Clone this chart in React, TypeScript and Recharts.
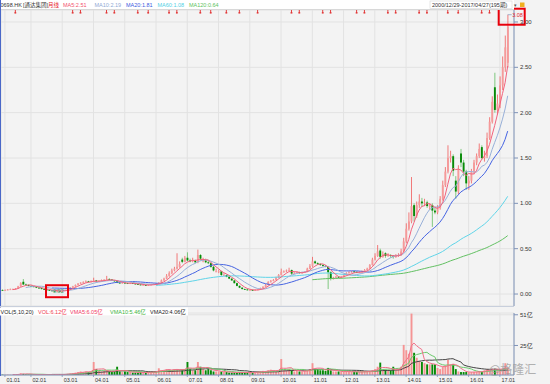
import { ComposedChart, Bar, Line, XAxis, YAxis, CartesianGrid, ReferenceDot } from "recharts"

// 0698.HK monthly candles, 2000/12 - 2017/04 (195 periods)
const fullYear = ["01", "02", "03", "04", "05", "06", "07", "08", "09", "10", "11", "12"]
const yearMonths: [string, string[]][] = [
  ["00", ["12"]],
  ["01", ["01", "02", "03", "04", "05", "08", "09", "10", "11", "12"]],
  ["02", fullYear], ["03", fullYear], ["04", fullYear], ["05", fullYear], ["06", fullYear],
  ["07", fullYear], ["08", fullYear], ["09", fullYear], ["10", fullYear], ["11", fullYear],
  ["12", fullYear], ["13", fullYear], ["14", fullYear], ["15", fullYear], ["16", fullYear],
  ["17", ["01", "02", "03", "04"]],
]
const months = yearMonths.flatMap(([y, ms]) => ms.map((m) => `${y}.${m}`))

const yearTicks = ["01.01", "02.01", "03.01", "04.01", "05.01", "06.01", "07.01", "08.01", "09.01",
  "10.01", "11.01", "12.01", "13.01", "14.01", "15.01", "16.01", "17.01"]
const priceTicks = [0, 0.5, 1, 1.5, 2, 2.5, 3]
const volTicks = [25, 51]

// [open, high, low, close]
const c2000 = [[0.045, 0.05, 0.035, 0.04]]
const c2001 = [
  [0.04, 0.05, 0.035, 0.045], [0.045, 0.055, 0.04, 0.05], [0.05, 0.06, 0.045, 0.052], [0.052, 0.06, 0.048, 0.055],
  [0.055, 0.065, 0.05, 0.06], [0.06, 0.09, 0.058, 0.085], [0.085, 0.13, 0.08, 0.12], [0.135, 0.165, 0.1, 0.105],
  [0.105, 0.115, 0.095, 0.1], [0.1, 0.105, 0.085, 0.09],
]
const c2002 = [
  [0.09, 0.095, 0.08, 0.085], [0.085, 0.09, 0.075, 0.08], [0.08, 0.085, 0.065, 0.07], [0.07, 0.075, 0.06, 0.065],
  [0.065, 0.07, 0.05, 0.055], [0.055, 0.06, 0.045, 0.05], [0.05, 0.055, 0.04, 0.045], [0.045, 0.05, 0.035, 0.04],
  [0.04, 0.045, 0.03, 0.035], [0.035, 0.04, 0.025, 0.03], [0.03, 0.04, 0.02, 0.035], [0.035, 0.04, 0.025, 0.03],
]
const c2003 = [
  [0.03, 0.04, 0.028, 0.035], [0.035, 0.05, 0.033, 0.045], [0.045, 0.065, 0.04, 0.06], [0.06, 0.075, 0.055, 0.07],
  [0.07, 0.09, 0.065, 0.085], [0.085, 0.105, 0.08, 0.1], [0.1, 0.12, 0.095, 0.115], [0.115, 0.13, 0.11, 0.125],
  [0.125, 0.14, 0.115, 0.13], [0.13, 0.15, 0.125, 0.14], [0.14, 0.145, 0.13, 0.135], [0.135, 0.15, 0.13, 0.14],
]
const c2004 = [
  [0.14, 0.18, 0.135, 0.15], [0.15, 0.155, 0.135, 0.14], [0.14, 0.15, 0.135, 0.145], [0.145, 0.16, 0.14, 0.15],
  [0.15, 0.165, 0.145, 0.155], [0.155, 0.2, 0.15, 0.165], [0.165, 0.175, 0.155, 0.16], [0.16, 0.165, 0.145, 0.15],
  [0.15, 0.155, 0.135, 0.14], [0.14, 0.145, 0.12, 0.125], [0.125, 0.13, 0.115, 0.12], [0.12, 0.13, 0.115, 0.125],
]
const c2005 = [
  [0.125, 0.13, 0.115, 0.12], [0.12, 0.125, 0.11, 0.115], [0.115, 0.125, 0.11, 0.12], [0.12, 0.125, 0.11, 0.115],
  [0.115, 0.12, 0.105, 0.11], [0.11, 0.115, 0.1, 0.105], [0.105, 0.11, 0.095, 0.1], [0.1, 0.105, 0.095, 0.1],
  [0.1, 0.105, 0.09, 0.095], [0.095, 0.105, 0.09, 0.1], [0.1, 0.11, 0.095, 0.105], [0.105, 0.115, 0.1, 0.11],
]
const c2006 = [
  [0.11, 0.12, 0.105, 0.115], [0.115, 0.13, 0.11, 0.125], [0.125, 0.16, 0.12, 0.15], [0.15, 0.18, 0.145, 0.17],
  [0.17, 0.22, 0.165, 0.2], [0.2, 0.25, 0.19, 0.23], [0.23, 0.28, 0.22, 0.26], [0.26, 0.3, 0.25, 0.28],
  [0.28, 0.45, 0.27, 0.3], [0.3, 0.36, 0.29, 0.33], [0.38, 0.4, 0.34, 0.355], [0.355, 0.42, 0.35, 0.4],
]
const c2007 = [
  [0.4, 0.46, 0.36, 0.37], [0.37, 0.39, 0.35, 0.36], [0.36, 0.4, 0.35, 0.37], [0.37, 0.38, 0.34, 0.35],
  [0.35, 0.49, 0.34, 0.43], [0.43, 0.44, 0.37, 0.39], [0.36, 0.4, 0.35, 0.37], [0.37, 0.39, 0.34, 0.35],
  [0.35, 0.37, 0.33, 0.34], [0.34, 0.35, 0.29, 0.3], [0.3, 0.31, 0.25, 0.26], [0.25, 0.28, 0.24, 0.25],
]
const c2008 = [
  [0.25, 0.27, 0.23, 0.25], [0.25, 0.255, 0.2, 0.21], [0.205, 0.23, 0.2, 0.21], [0.21, 0.215, 0.185, 0.19],
  [0.19, 0.2, 0.165, 0.17], [0.17, 0.175, 0.145, 0.15], [0.15, 0.155, 0.115, 0.12], [0.12, 0.125, 0.085, 0.09],
  [0.09, 0.095, 0.065, 0.07], [0.07, 0.075, 0.05, 0.055], [0.055, 0.06, 0.045, 0.05], [0.05, 0.055, 0.04, 0.045],
]
const c2009 = [
  [0.043, 0.05, 0.04, 0.045], [0.045, 0.05, 0.035, 0.04], [0.04, 0.05, 0.038, 0.045], [0.045, 0.055, 0.043, 0.05],
  [0.05, 0.07, 0.048, 0.065], [0.065, 0.085, 0.06, 0.08], [0.08, 0.11, 0.075, 0.1], [0.1, 0.14, 0.095, 0.135],
  [0.135, 0.155, 0.125, 0.145], [0.145, 0.165, 0.14, 0.155], [0.155, 0.19, 0.15, 0.18], [0.18, 0.22, 0.175, 0.21],
]
const c2010 = [
  [0.21, 0.28, 0.205, 0.245], [0.245, 0.26, 0.235, 0.25], [0.25, 0.27, 0.24, 0.26], [0.26, 0.29, 0.25, 0.265],
  [0.265, 0.27, 0.21, 0.225], [0.225, 0.24, 0.22, 0.235], [0.235, 0.25, 0.23, 0.24], [0.24, 0.245, 0.225, 0.23],
  [0.23, 0.245, 0.225, 0.24], [0.24, 0.25, 0.235, 0.245], [0.245, 0.29, 0.24, 0.28], [0.28, 0.33, 0.275, 0.31],
]
const c2011 = [
  [0.31, 0.41, 0.3, 0.36], [0.36, 0.37, 0.33, 0.34], [0.34, 0.35, 0.32, 0.33], [0.33, 0.34, 0.31, 0.32],
  [0.32, 0.33, 0.3, 0.31], [0.31, 0.32, 0.295, 0.3], [0.3, 0.31, 0.055, 0.24], [0.24, 0.25, 0.15, 0.17],
  [0.17, 0.19, 0.16, 0.18], [0.18, 0.2, 0.17, 0.19], [0.19, 0.195, 0.175, 0.185], [0.185, 0.2, 0.18, 0.19],
]
const c2012 = [
  [0.19, 0.22, 0.185, 0.21], [0.21, 0.24, 0.205, 0.23], [0.23, 0.25, 0.225, 0.24], [0.24, 0.255, 0.235, 0.245],
  [0.25, 0.255, 0.235, 0.24], [0.245, 0.25, 0.23, 0.235], [0.235, 0.25, 0.23, 0.24], [0.24, 0.26, 0.235, 0.25],
  [0.25, 0.275, 0.245, 0.265], [0.265, 0.29, 0.26, 0.28], [0.28, 0.33, 0.275, 0.32], [0.32, 0.4, 0.315, 0.38],
]
const c2013 = [
  [0.38, 0.45, 0.37, 0.42], [0.42, 0.54, 0.41, 0.47], [0.48, 0.5, 0.39, 0.41], [0.41, 0.47, 0.4, 0.44],
  [0.45, 0.46, 0.4, 0.42], [0.42, 0.45, 0.41, 0.43], [0.43, 0.44, 0.4, 0.42], [0.42, 0.43, 0.39, 0.41],
  [0.41, 0.44, 0.4, 0.42], [0.42, 0.45, 0.41, 0.43], [0.43, 0.5, 0.42, 0.47], [0.47, 0.62, 0.46, 0.58],
]
const c2014 = [
  [0.58, 0.78, 0.56, 0.72], [0.72, 0.9, 0.7, 0.8], [0.8, 1.29, 0.78, 0.97], [0.98, 1.0, 0.8, 0.86],
  [0.86, 1.02, 0.84, 0.98], [0.98, 1.1, 0.95, 1.02], [1.02, 1.06, 0.96, 1.0], [1.0, 1.05, 0.97, 1.01],
  [1.01, 1.03, 0.95, 0.97], [0.96, 1.0, 0.93, 0.98], [0.98, 1.0, 0.74, 0.92], [0.92, 0.95, 0.88, 0.9],
]
const c2015 = [
  [0.9, 0.98, 0.88, 0.95], [0.95, 1.08, 0.93, 1.05], [1.05, 1.25, 1.03, 1.2], [1.2, 1.4, 1.18, 1.35],
  [1.35, 1.64, 1.33, 1.5], [1.5, 1.58, 1.45, 1.52], [1.52, 1.54, 1.3, 1.36], [1.25, 1.3, 1.05, 1.13],
  [1.13, 1.42, 1.1, 1.38], [1.55, 1.6, 1.4, 1.45], [1.45, 1.48, 1.3, 1.35], [1.35, 1.37, 1.15, 1.22],
]
const c2016 = [
  [1.22, 1.3, 1.15, 1.25], [1.25, 1.38, 1.22, 1.35], [1.35, 1.48, 1.32, 1.45], [1.45, 1.55, 1.42, 1.52],
  [1.52, 1.66, 1.5, 1.6], [1.62, 1.64, 1.48, 1.5], [1.5, 1.58, 1.46, 1.52], [1.52, 1.78, 1.5, 1.72],
  [1.72, 1.95, 1.7, 1.9], [1.9, 2.18, 1.88, 2.12], [2.28, 2.44, 2.0, 2.03], [2.03, 2.2, 1.98, 2.1],
]
const c2017 = [[2.1, 2.4, 2.05, 2.3], [2.3, 2.62, 2.25, 2.5], [2.5, 2.85, 2.45, 2.72], [2.55, 3.08, 2.5, 2.95]]

// volume, 亿
const v2000 = [0.3]
const v2001 = [0.3, 0.4, 0.3, 0.3, 0.4, 0.8, 1.5, 1.0, 0.6, 0.5]
const v2002 = [0.5, 0.4, 0.4, 0.3, 0.3, 0.3, 0.3, 0.4, 0.3, 0.3, 0.5, 0.4]
const v2003 = [0.4, 0.6, 1.0, 1.2, 1.5, 2.0, 2.5, 3.0, 2.5, 3.0, 2.5, 3.0]
const v2004 = [11, 5, 3.5, 3, 3.5, 4, 3, 2.5, 3, 7, 3, 2.5]
const v2005 = [3, 2.5, 2.5, 2, 2, 2, 2.5, 2, 2, 2.5, 2.5, 3]
const v2006 = [3, 5.7, 4, 4, 5, 4.5, 4, 5, 5, 4.5, 4, 5]
const v2007 = [11, 5, 4, 4, 11, 7, 5, 4, 5, 4, 3, 3]
const v2008 = [3, 3, 2.5, 2.5, 2, 2, 2, 2, 2.5, 2, 2, 2]
const v2009 = [2, 2, 2.5, 3, 3, 3.5, 3, 4, 4.5, 4, 3, 4]
const v2010 = [13.5, 4, 4, 5, 4, 3, 3.5, 3, 3, 3.5, 4, 5]
const v2011 = [10, 5, 5, 4, 4, 3.5, 6, 4, 3, 3, 3, 2.5]
const v2012 = [3, 3, 3, 2.5, 2.5, 2.5, 2.5, 3, 3, 3, 3.5, 4]
const v2013 = [5, 7, 10.5, 5, 4.5, 4, 4, 7, 4, 5, 7, 25.5]
const v2014 = [21, 18, 52, 18.8, 14.6, 12, 11, 10, 9, 9, 9, 9]
const v2015 = [6, 5, 7, 8, 13, 9, 9, 5, 3, 2.5, 2.5, 2.5]
const v2016 = [2.3, 2.5, 2.6, 2.8, 3.2, 2.7, 4, 5, 4.5, 5.5, 5.4, 4.5]
const v2017 = [4.6, 5, 10, 6.12]

// months with dividend flags (index into months)
const dividendIdx = [5, 27, 30, 40, 43, 52, 56, 64, 67, 76, 80, 86, 91, 98, 111, 114, 123, 126,
  136, 139, 148, 151, 160, 163, 171, 175, 184, 187]

const maLegend = [
  { label: "MA5:2.51", color: "#f2506e" },
  { label: "MA10:2.19", color: "#8fa9d4" },
  { label: "MA20:1.81", color: "#3c5ae0" },
  { label: "MA60:1.08", color: "#4fd0e4" },
  { label: "MA120:0.64", color: "#5cc25c" },
]
const volLegend = [
  { label: "VOL(5,10,20)", color: "#222" },
  { label: "VOL:6.12亿", color: "#f03a4e" },
  { label: "VMA5:6.05亿", color: "#f03a64" },
  { label: "VMA10:5.46亿", color: "#3cb43c" },
  { label: "VMA20:4.06亿", color: "#222" },
]

const candles = [...c2000, ...c2001, ...c2002, ...c2003, ...c2004, ...c2005, ...c2006, ...c2007, ...c2008,
  ...c2009, ...c2010, ...c2011, ...c2012, ...c2013, ...c2014, ...c2015, ...c2016, ...c2017]
const volumes = [...v2000, ...v2001, ...v2002, ...v2003, ...v2004, ...v2005, ...v2006, ...v2007, ...v2008,
  ...v2009, ...v2010, ...v2011, ...v2012, ...v2013, ...v2014, ...v2015, ...v2016, ...v2017]

const closes = candles.map((c) => c[3])
const movingAvg = (arr: number[], n: number) =>
  arr.map((_, i) => (i < n - 1 ? null : arr.slice(i - n + 1, i + 1).reduce((a, b) => a + b, 0) / n))

const ma5 = movingAvg(closes, 5)
const ma10 = movingAvg(closes, 10)
const ma20 = movingAvg(closes, 20)
const ma60 = movingAvg(closes, 60)
const ma120 = movingAvg(closes, 120)
const vma5 = movingAvg(volumes, 5)
const vma10 = movingAvg(volumes, 10)
const vma20 = movingAvg(volumes, 20)

const rows = months.map((m, i) => {
  const [open, high, low, close] = candles[i]
  return {
    m, open, high, low, close, range: [low, high],
    ma5: ma5[i], ma10: ma10[i], ma20: ma20[i], ma60: ma60[i], ma120: ma120[i],
    vol: volumes[i], vma5: vma5[i], vma10: vma10[i], vma20: vma20[i],
  }
})

const FONT = '"Liberation Sans", Arial, "Noto Sans CJK SC", sans-serif'
const UP_WICK = "#f05a5a"
const UP_FILL = "#f59a9a"
const DOWN = "#078a07"
const DOWN_WICK = "#62bd62"
const AXIS = "#7f93b8"

function Candle(props: any) {
  const { x, y, width, height, payload } = props
  if (!payload) return null
  const { open, high, low, close } = payload
  const k = high > low ? height / (high - low) : 0
  const py = (v: number) => y + (high - v) * k
  const cx = x + width / 2
  const up = close >= open
  const top = py(Math.max(open, close))
  const bh = Math.max(0.8, py(Math.min(open, close)) - top)
  return (
    <g>
      <line x1={cx} x2={cx} y1={y} y2={y + height} stroke={up ? UP_WICK : DOWN_WICK} strokeWidth={0.8} />
      <rect x={cx - 0.95} y={top} width={1.9} height={bh} fill={up ? UP_FILL : DOWN} />
    </g>
  )
}

function VolBar(props: any) {
  const { x, y, width, height, payload } = props
  if (!payload || !(height > 0)) return null
  const up = payload.close >= payload.open
  return <rect x={x + width / 2 - 0.95} y={y} width={1.9} height={height} fill={up ? "#f59494" : DOWN} />
}

function DivMark(props: any) {
  const { cx, cy } = props
  return (
    <g>
      <line x1={cx} x2={cx} y1={cy - 2.5} y2={cy + 1} stroke="#e02828" strokeWidth={0.9} />
      <rect x={cx - 0.9} y={cy + 0.6} width={1.8} height={1.4} fill="#e02828" />
    </g>
  )
}

function HighTag(props: any) {
  const { cx, cy } = props
  return (
    <g>
      <line x1={cx} x2={cx + 4} y1={cy} y2={cy} stroke="#8aa0c4" strokeWidth={0.8} />
      <text x={cx + 4.5} y={cy + 2.2} fontSize={5.5} fill="#e8202a" fontFamily={FONT}>3.08</text>
      <rect x={cx - 9} y={cy - 6} width={26} height={16} fill="none" stroke="#e8000b" strokeWidth={2} />
    </g>
  )
}

function LowTag(props: any) {
  const { cx, cy } = props
  return (
    <g>
      <line x1={cx - 6} x2={cx - 2} y1={cy - 1.5} y2={cy - 1.5} stroke="#8aa0c4" strokeWidth={0.8} />
      <text x={cx - 4} y={cy + 0.5} fontSize={5.5} fill="#4a9a6a" fontFamily={FONT}>0.02</text>
      <rect x={cx - 11} y={cy - 7} width={22} height={12} fill="none" stroke="#e8000b" strokeWidth={2} />
    </g>
  )
}

function XTick(props: any) {
  const { x, y, payload } = props
  return (
    <g>
      <line x1={x} x2={x} y1={y} y2={y + 2} stroke={AXIS} strokeWidth={0.8} />
      <text x={x + 1.5} y={y + 7} fontSize={5.5} fill="#333" fontFamily={FONT}>{payload.value}</text>
    </g>
  )
}

export default function App() {
  const yTick = { fontSize: 6, fill: "#333", fontFamily: FONT }
  return (
    <div style={{ position: "absolute", left: 0, top: 0, width: 550, height: 384, background: "#f3f3f3", overflow: "hidden" }}>
      <div style={{ position: "absolute", left: 0, top: 0 }}>
        <ComposedChart width={550} height={306} data={rows} margin={{ top: 10, right: 0, bottom: 0, left: 1 }} barCategoryGap={0}>
          <CartesianGrid stroke="#e2e2e2" />
          <XAxis dataKey="m" hide ticks={yearTicks} interval={0} padding={{ left: 0, right: 5 }} />
          <YAxis
            orientation="right"
            width={36}
            domain={[-0.132, 3.132]}
            allowDataOverflow
            ticks={priceTicks}
            tickFormatter={(v: number) => v.toFixed(2)}
            tick={yTick}
            tickSize={4}
            stroke={AXIS}
          />
          <Bar dataKey="range" shape={<Candle />} isAnimationActive={false} />
          <Line dataKey="ma120" stroke="#62c062" strokeWidth={1} dot={false} isAnimationActive={false} />
          <Line dataKey="ma60" stroke="#5fd4e8" strokeWidth={1} dot={false} isAnimationActive={false} />
          <Line dataKey="ma20" stroke="#4563e2" strokeWidth={1} dot={false} isAnimationActive={false} />
          <Line dataKey="ma10" stroke="#98b0d8" strokeWidth={1} dot={false} isAnimationActive={false} />
          <Line dataKey="ma5" stroke="#f2627c" strokeWidth={1} dot={false} isAnimationActive={false} />
          {dividendIdx.map((i) => (
            <ReferenceDot key={i} x={months[i]} y={3.115} r={1} shape={<DivMark />} />
          ))}
          <ReferenceDot x={months[194]} y={3.08} r={1} shape={<HighTag />} />
          <ReferenceDot x={months[21]} y={0.02} r={1} shape={<LowTag />} />
        </ComposedChart>
      </div>
      <div style={{ position: "absolute", left: 0, top: 306 }}>
        <ComposedChart width={550} height={78} data={rows} margin={{ top: 7, right: 0, bottom: 0, left: 1 }} barCategoryGap={0}>
          <CartesianGrid stroke="#e2e2e2" />
          <XAxis
            dataKey="m"
            ticks={yearTicks}
            interval={0}
            padding={{ left: 0, right: 5 }}
            height={9}
            tick={<XTick />}
            tickLine={false}
            tickSize={0}
            tickMargin={0}
            stroke={AXIS}
          />
          <YAxis
            orientation="right"
            width={36}
            domain={[0, 52.5]}
            allowDataOverflow
            ticks={volTicks}
            tickFormatter={(v: number) => `${v}亿`}
            tick={yTick}
            tickSize={4}
            stroke={AXIS}
          />
          <Bar dataKey="vol" shape={<VolBar />} isAnimationActive={false} />
          <Line dataKey="vma20" stroke="#444" strokeWidth={1} dot={false} isAnimationActive={false} />
          <Line dataKey="vma10" stroke="#6cc86c" strokeWidth={1} dot={false} isAnimationActive={false} />
          <Line dataKey="vma5" stroke="#f07088" strokeWidth={1} dot={false} isAnimationActive={false} />
        </ComposedChart>
      </div>
      <svg width={550} height={384} style={{ position: "absolute", left: 0, top: 0, pointerEvents: "none" }} fontFamily={FONT}>
        <rect x={0} y={0} width={514} height={9} fill="#ffffff" />
        <line x1={0} x2={514} y1={9.5} y2={9.5} stroke="#d8d8d8" strokeWidth={1} />
        <text y={6.5} fontSize={5.5}>
          <tspan x={0.5} fill="#333">0698.HK</tspan>
          <tspan x={23} fill="#333">[通达集团]</tspan>
          <tspan x={48} fill="#e8202a">月线</tspan>
          {maLegend.map((d, i) => (
            <tspan key={d.label} x={63 + i * 31.5} fill={d.color}>{d.label}</tspan>
          ))}
        </text>
        <rect x={430} y={1} width={82} height={7.5} fill="#ffffff" stroke="#d0d0d0" strokeWidth={0.5} />
        <text x={432} y={6.6} fontSize={5.5} fill="#333">2000/12/29-2017/04/27(195期)</text>
        <text x={514} y={6.6} fontSize={5} fill="#555">▾</text>
        <rect x={520} y={2.5} width={4.5} height={4.5} fill="#f0b020" />
        <line x1={0.5} x2={0.5} y1={0} y2={376} stroke="#4a68c8" strokeWidth={1} />
        <line x1={0} x2={514} y1={306.5} y2={306.5} stroke="#c8cfdc" strokeWidth={1} />
        <rect x={0} y={307.5} width={188} height={8} fill="#ffffff" />
        <text y={313.5} fontSize={5.5}>
          {volLegend.map((d, i) => (
            <tspan key={d.label} x={[0.5, 38, 70, 110, 150][i]} fill={d.color}>{d.label}</tspan>
          ))}
        </text>
        <text x={489} y={373.5} fontSize={12} fill="#9a9a9a" opacity={0.75} fontFamily='"Noto Sans CJK SC", sans-serif'>@格隆汇</text>
      </svg>
    </div>
  )
}
